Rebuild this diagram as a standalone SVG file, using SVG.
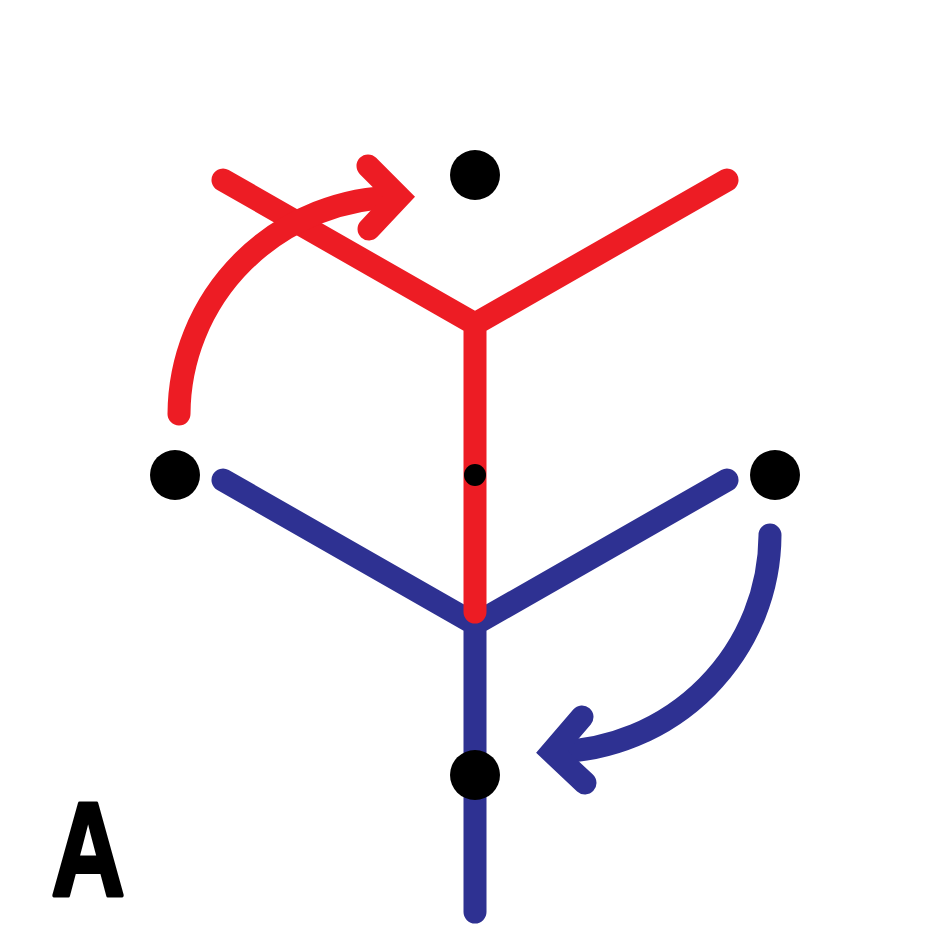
<svg xmlns="http://www.w3.org/2000/svg" width="950" height="950" viewBox="0 0 950 950">
<style>
.r{fill:none;stroke:#ED1C24;stroke-width:23;stroke-linecap:round;stroke-linejoin:round}
.b{fill:none;stroke:#2E3192;stroke-width:23;stroke-linecap:round;stroke-linejoin:round}
.ah{stroke-linejoin:miter;stroke-miterlimit:10}
.dot{fill:#000}
</style>
<rect width="950" height="950" fill="#fff"/>
<g id="blue-y">
<path class="b" d="M223,480 L475,624 L727,480 M475,624 L475,912"/>
</g>
<g id="red-y">
<path class="r" d="M223,180 L475,324 L727,180 M475,324 L475,612"/>
</g>
<g id="connectors">
<path class="r" d="M179,414 A221,218 0 0 1 398,197"/>
<path class="r ah" d="M368,166 L399,197 L369,229"/>
<path class="b" d="M770,535 A220,218 0 0 1 555,752"/>
<path class="b ah" d="M582,717 L552,752 L585,783"/>
</g>
<g id="dots">
<circle class="dot" cx="475" cy="175" r="25"/>
<circle class="dot" cx="175" cy="475" r="25"/>
<circle class="dot" cx="775" cy="475" r="25"/>
<circle class="dot" cx="475" cy="775" r="25"/>
<circle class="dot" cx="475" cy="475" r="11"/>
</g>
<g id="label">
<text transform="translate(88,896) scale(0.74,0.97)" text-anchor="middle" font-family="Liberation Sans, Arial, sans-serif" font-weight="bold" font-size="138" fill="#000" stroke="#000" stroke-width="4" stroke-linejoin="round">A</text>
</g>
</svg>
